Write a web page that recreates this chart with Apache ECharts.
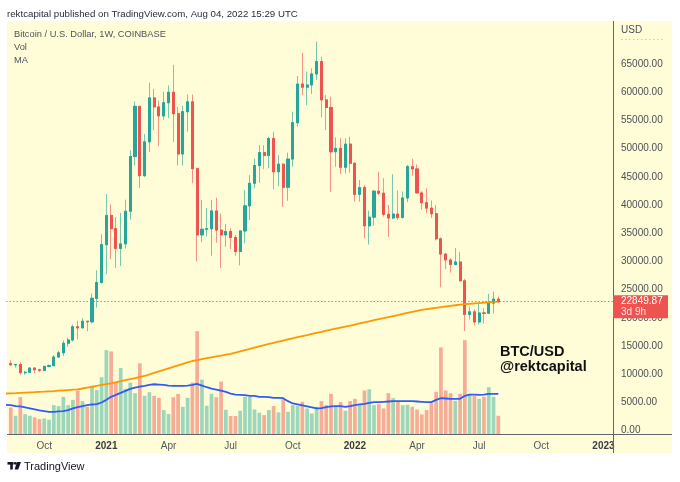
<!DOCTYPE html>
<html><head><meta charset="utf-8">
<script src="https://cdn.jsdelivr.net/npm/echarts@6/dist/echarts.min.js"></script>
<style>html,body{margin:0;padding:0;background:#fff}#c{width:680px;height:482px}</style>
</head><body><div id="c"></div>
<script>
// ---- data (weekly candles, Coinbase BTC/USD, weeks starting 2020-08-17) ----
const firstWeek = '2020-08-10';   // first slot of the time axis (empty)
const weekCount = 128;
const opens = [
11860,11650,11710,10250,10330,11080,10780,10670,11370,11500,
13030,13780,15480,16060,18400,18200,19380,19280,23450,26250,
32960,38150,35800,32300,33100,38900,48600,57500,45200,51200,
59000,57400,55800,58150,60000,56200,49050,56550,58300,46450,
34700,35700,35800,38950,35550,34700,35300,34250,31750,35400,
39850,43850,47000,49300,48800,51800,45900,47250,43150,48150,
54600,61450,60900,61300,63250,65450,58650,57300,49450,50050,
46700,50800,47400,41900,43100,36300,37850,42450,42100,38350,
37700,38400,37800,41250,46800,46400,42150,40400,39450,38450,
34000,31300,30250,29450,29900,26550,20600,21050,19250,20850,
20800,22600,23300];
const closes = [
11650,11710,10250,10330,11080,10780,10670,11370,11500,13030,
13780,15480,16060,18400,18200,19380,19280,23450,26250,32960,
38150,35800,32300,33100,38900,48600,57500,45200,51200,59000,
57400,55800,58150,60000,56200,49050,56550,58300,46450,34700,
35700,35800,38950,35550,34700,35300,34250,31750,35400,39850,
43850,47000,49300,48800,51800,45900,47250,43150,48150,54600,
61450,60900,61300,63250,65450,58650,57300,49450,50050,46700,
50800,47400,41900,43100,36300,37850,42450,42100,38350,37700,
38400,37800,41250,46800,46400,42150,40400,39450,38450,34000,
31300,30250,29450,29900,26550,20600,21050,19250,20850,20800,
22600,23300,22849.87];
const lows = [
11550,11150,9880,9860,10200,10140,10370,10530,11200,11420,
12960,13200,14850,15800,16200,18200,17600,19000,21800,26100,
27700,30400,28850,29200,32300,37400,47000,43000,45000,49400,
53300,50400,55100,55400,51200,47000,47000,53000,43850,30000,
33400,34400,31000,33300,28800,32600,32200,31000,29300,33200,
37350,42950,43950,46350,46500,42800,43400,39700,40750,46800,
53900,59500,57700,59700,62200,55550,53300,42350,46800,45500,
45600,45750,40600,40600,34100,33000,36300,41750,37950,34350,
37450,37350,37600,40500,45200,42100,39200,38550,37700,33700,
25400,28650,28000,29300,26500,17650,19700,18650,18800,18950,
20780,20750,22700];
const highs = [
12480,11800,12090,10580,11180,11180,10950,11490,11720,13350,
14100,15960,16480,18800,19450,19920,19420,24300,28400,34800,
41950,40100,37850,38600,40950,49700,58350,57500,52600,61700,
60600,58500,60100,61200,64850,57400,57600,59600,59600,46650,
40900,39500,40900,41300,38500,36600,35900,34700,35500,42650,
45300,48250,50600,50600,52100,53000,48850,47350,49300,56550,
62900,67000,63650,64250,69000,66300,59500,59200,52000,51850,
51850,52100,47550,44450,43500,39000,42650,45900,44750,40000,
45450,42550,42400,47100,48200,47200,42450,42950,40800,40000,
34250,31450,30600,32350,31700,26900,22000,21500,22550,21700,
24250,24650,23750];
// volume, thousand BTC
const volumes = [
80,55,111,60,55,50,45,47,43,87,
84,112,87,103,131,99,82,143,133,171,
253,249,158,199,136,155,123,213,115,126,
115,109,72,60,111,121,82,109,155,310,
164,85,121,111,158,73,54,54,70,112,
112,74,64,57,72,84,65,105,67,87,
84,97,77,62,82,99,87,121,84,96,
70,99,106,87,131,135,87,90,77,123,
108,97,87,88,82,74,59,72,93,127,
261,131,123,100,121,283,121,115,106,112,
141,112,55];
// 200-week MA of price, starting at 2020-08-10
const ma200 = [
6560,
6600,6640,6690,6730,6770,6810,6860,6900,6950,7000,
7060,7120,7180,7240,7300,7450,7600,7760,7920,8080,
8230,8370,8550,8740,8930,9120,9310,9490,9670,9940,
10210,10480,10750,11020,11280,11540,11800,12070,12330,12500,
12670,12830,12990,13150,13300,13450,13600,13820,14040,14260,
14480,14700,14920,15140,15350,15550,15750,15950,16150,16350,
16550,16740,16930,17120,17310,17500,17700,17880,18060,18240,
18420,18600,18800,18990,19180,19370,19560,19750,19930,20100,
20290,20480,20670,20860,21050,21230,21400,21520,21640,21760,
21880,22000,22110,22220,22320,22400,22470,22540,22610,22680,
22740,22800,22850];
// MA of volume, starting at 2020-08-10
const volMA = [
88,
87,84,83,80,77,74,71,69,67,67,
68,69,72,77,81,84,87,89,90,95,
103,112,118,124,130,136,140,143,145,148,
150,149,148,146,145,145,145,146,148,151,
146,141,137,134,131,127,122,119,118,117,
115,115,112,112,111,109,109,108,99,92,
89,86,83,80,77,78,81,83,84,84,
82,84,87,89,91,94,96,96,97,98,
99,99,99,99,99,98,97,96,96,103,
108,107,106,106,106,115,119,119,118,119,
121,121,121];
const xTicks = [['2020-10-05','Oct'],['2021-01-04','2021'],['2021-04-05','Apr'],['2021-07-05','Jul'],
  ['2021-10-04','Oct'],['2022-01-03','2022'],['2022-04-04','Apr'],['2022-07-04','Jul'],
  ['2022-10-03','Oct'],['2023-01-02','2023']];
const priceMin = 0, priceMax = 70000, priceStep = 5000;
const lastPrice = 22849.87;
const countdown = '3d 9h';

// ---- build ----
const FONT = "'Liberation Sans', Arial, sans-serif";
const UP = '#26a69a', DOWN = '#ef5350';
const UP_WICK = 'rgba(38,166,154,0.62)', DOWN_WICK = 'rgba(239,83,80,0.62)';
const VOL_UP = 'rgba(38,166,154,0.45)', VOL_DOWN = 'rgba(239,83,80,0.48)';

const categories = [];
(function(){ const [y,m,d] = firstWeek.split('-').map(Number); const t0 = Date.UTC(y,m-1,d);
  for (let k=0;k<weekCount;k++) categories.push(new Date(t0 + k*7*86400000).toISOString().slice(0,10)); })();
const tickMap = new Map(xTicks);
function pad(arr, lead, empty){ const out = []; for (let k=0;k<weekCount;k++) out.push(empty); arr.forEach((v,k)=>{ out[k+lead] = v; }); return out; }
const E4 = ['-','-','-','-'];
const wickData = pad(opens.map((o,k)=>[o, closes[k], lows[k], highs[k]]), 1, E4);
const bodyData = pad(opens.map((o,k)=>[o, closes[k], Math.min(o,closes[k]), Math.max(o,closes[k])]), 1, E4);
const volData = pad(volumes.map((v,k)=>({value:v, itemStyle:{color: closes[k] >= opens[k] ? VOL_UP : VOL_DOWN}})), 1, '-');
const maData = pad(ma200, 0, '-');
const vmaData = pad(volMA, 0, '-');

const chart = echarts.init(document.getElementById('c'), null, {width:680, height:482});

const staticGraphics = [
  {type:'rect', z:-10, silent:true, shape:{x:7,y:21,width:665,height:432}, style:{fill:'#fefdd7'}},
  {type:'line', z:50, silent:true, shape:{x1:7,y1:434.5,x2:672,y2:434.5}, style:{stroke:'#63656d', lineWidth:1}},
  {type:'line', z:50, silent:true, shape:{x1:613.5,y1:21,x2:613.5,y2:453}, style:{stroke:'#63656d', lineWidth:1}},
  {type:'line', z:50, silent:true, shape:{x1:621,y1:39.5,x2:663,y2:39.5}, style:{stroke:'#c9c9c0', lineWidth:1, lineDash:[1.5,2.5]}},
  {type:'text', z:50, x:7, y:14, style:{text:'rektcapital published on TradingView.com, Aug 04, 2022 15:29 UTC', font:'9.7px '+FONT, fill:'#2a2e39', textVerticalAlign:'middle', verticalAlign:'middle'}},
  {type:'text', z:50, x:14, y:34, style:{text:'Bitcoin / U.S. Dollar, 1W, COINBASE', font:'9.3px '+FONT, fill:'#50535e', textVerticalAlign:'middle', verticalAlign:'middle'}},
  {type:'text', z:50, x:14, y:47, style:{text:'Vol', font:'9.3px '+FONT, fill:'#50535e', textVerticalAlign:'middle', verticalAlign:'middle'}},
  {type:'text', z:50, x:14, y:60, style:{text:'MA', font:'9.3px '+FONT, fill:'#50535e', textVerticalAlign:'middle', verticalAlign:'middle'}},
  {type:'text', z:50, x:621, y:30.5, style:{text:'USD', font:'10px '+FONT, fill:'#4d4f57', textVerticalAlign:'middle', verticalAlign:'middle'}},
  {type:'text', z:50, x:500, y:352, style:{text:'BTC/USD', font:'bold 14.5px '+FONT, fill:'#111', textVerticalAlign:'middle', verticalAlign:'middle'}},
  {type:'text', z:50, x:500, y:366.5, style:{text:'@rektcapital', font:'bold 14.5px '+FONT, fill:'#111', textVerticalAlign:'middle', verticalAlign:'middle'}},
  // TradingView logo
  {type:'rect', z:50, shape:{x:7.5,y:462,width:6,height:2.6}, style:{fill:'#131722'}},
  {type:'rect', z:50, shape:{x:10.2,y:462,width:2.6,height:7.5}, style:{fill:'#131722'}},
  {type:'circle', z:50, shape:{cx:15.3,cy:463.3,r:1.4}, style:{fill:'#131722'}},
  {type:'polygon', z:50, shape:{points:[[17,462],[21,462],[18.2,469.5],[14.6,469.5]]}, style:{fill:'#131722'}},
  {type:'text', z:50, x:24, y:466.5, style:{text:'TradingView', font:'11px '+FONT, fill:'#131722', textVerticalAlign:'middle', verticalAlign:'middle'}}
];

const option = {
  animation:false,
  backgroundColor:'#ffffff',
  grid:[
    {left:6, right:67, top:35.9, bottom:51.5},
    {left:6, right:67, top:36, bottom:48}
  ],
  xAxis:[
    {type:'category', gridIndex:0, data:categories, boundaryGap:false, show:false},
    {type:'category', gridIndex:1, data:categories, boundaryGap:false,
      axisLine:{show:false}, axisTick:{show:false}, splitLine:{show:false},
      axisLabel:{show:true, margin:7, color:'#55575f', fontSize:10, fontFamily:FONT,
        interval:(idx, val)=>tickMap.has(val),
        formatter:(val)=>{ const t = tickMap.get(val); if (!t) return ''; return /^\d{4}$/.test(t) ? '{y|'+t+'}' : t; },
        rich:{y:{fontWeight:'bold', color:'#3a3c44', fontSize:10, fontFamily:FONT}}}}
  ],
  yAxis:[
    {type:'value', gridIndex:0, position:'right', min:priceMin, max:priceMax, interval:priceStep,
      axisLine:{show:false}, axisTick:{show:false}, splitLine:{show:false},
      axisLabel:{margin:8, color:'#4d4f57', fontSize:10, fontFamily:FONT,
        formatter:(v)=> v >= priceMax ? '' : v.toFixed(2)}},
    {type:'value', gridIndex:1, min:0, max:1200, show:false, splitLine:{show:false}}
  ],
  series:[
    {type:'bar', name:'Vol', xAxisIndex:1, yAxisIndex:1, data:volData, barWidth:3.7, silent:true},
    {type:'line', name:'Vol MA', xAxisIndex:1, yAxisIndex:1, data:vmaData, showSymbol:false, symbol:'none',
      lineStyle:{color:'#2f5cf6', width:1.8}, silent:true},
    {type:'line', name:'MA', xAxisIndex:0, yAxisIndex:0, data:maData, showSymbol:false, symbol:'none',
      lineStyle:{color:'#ff9800', width:1.8}, silent:true},
    {type:'candlestick', name:'wicks', xAxisIndex:0, yAxisIndex:0, data:wickData, barWidth:2.6, silent:true,
      itemStyle:{color:UP_WICK, color0:DOWN_WICK, borderColor:UP_WICK, borderColor0:DOWN_WICK, borderWidth:1}},
    {type:'candlestick', name:'BTCUSD', xAxisIndex:0, yAxisIndex:0, data:bodyData, barWidth:2.6, silent:true,
      itemStyle:{color:UP, color0:DOWN, borderColor:UP, borderColor0:DOWN, borderWidth:1},
      markLine:{silent:true, symbol:['none','none'], label:{show:false},
        lineStyle:{color:'#ef5350', width:1, type:[1.5,2], opacity:0.8},
        data:[{yAxis:lastPrice}]}}
  ],
  graphic:{elements:staticGraphics}
};
chart.setOption(option);

const py = chart.convertToPixel({yAxisIndex:0}, lastPrice);
const labelGraphics = [
  {type:'rect', z:100, shape:{x:613, y:py-6.5, width:55, height:23}, style:{fill:'#ef5350'}},
  {type:'text', z:101, x:621, y:py, style:{text:lastPrice.toFixed(2), font:'10px '+FONT, fill:'#ffffff', textVerticalAlign:'middle', verticalAlign:'middle'}},
  {type:'text', z:101, x:621, y:py+10.5, style:{text:countdown, font:'10px '+FONT, fill:'rgba(255,255,255,0.85)', textVerticalAlign:'middle', verticalAlign:'middle'}}
];
chart.setOption({graphic:{elements:staticGraphics.concat(labelGraphics)}});
</script></body></html>
